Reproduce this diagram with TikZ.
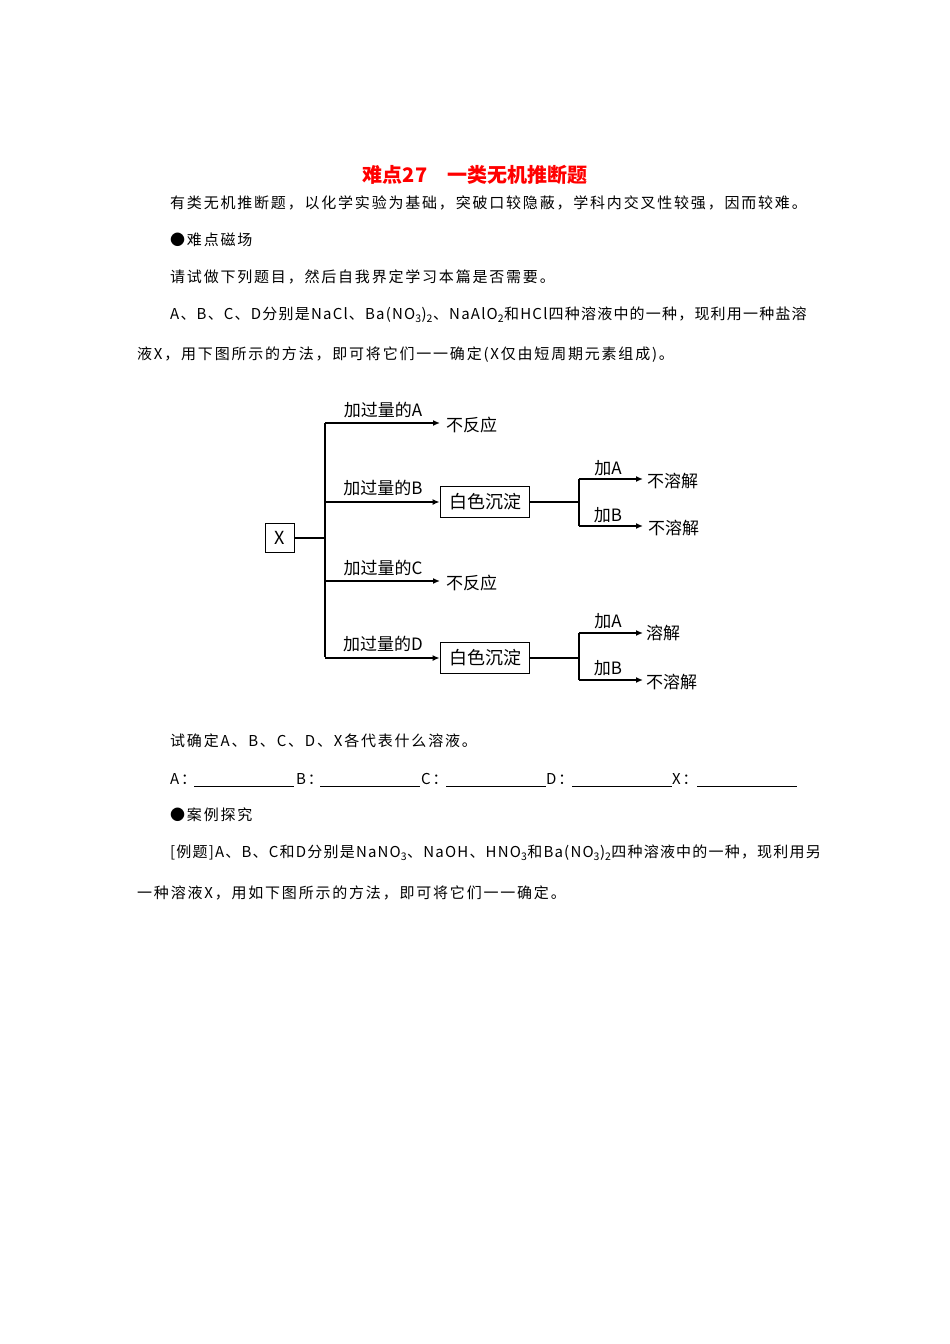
\documentclass[tikz,border=0pt]{standalone}
\usepackage{fontspec}
\setmainfont{Noto Sans CJK SC}
\newfontfamily\spaced[LetterSpace=12]{Noto Sans CJK SC}
\newfontfamily\spacedb[LetterSpace=8]{Noto Sans CJK SC}
\usetikzlibrary{arrows.meta}
\begin{document}
\begin{tikzpicture}[x=1pt,y=-1pt,
  txt/.style={anchor=west,inner sep=0pt,font=\spaced\fontsize{15}{17}\selectfont},
  txtb/.style={anchor=west,inner sep=0pt,font=\spacedb\fontsize{15}{17}\selectfont},
  lab/.style={inner sep=0pt,font=\fontsize{17}{19}\selectfont},
  box/.style={draw,line width=1.8pt,inner sep=3pt,font=\fontsize{18}{20}\selectfont},
  ln/.style={line width=1.6pt},
  arr/.style={line width=1.6pt,-{Latex[length=7pt,width=6pt]}}]
\useasboundingbox (0,0) rectangle (950,1344);
\node[inner sep=0pt,text=red,font=\fontsize{20}{22}\bfseries\selectfont] (title) at (475,175) {难点27\quad 一类无机推断题};
\node[txt] (p1) at (170,203) {有类无机推断题，以化学实验为基础，突破口较隐蔽，学科内交叉性较强，因而较难。};
\node[txt] (p2) at (170,240) {●难点磁场};
\node[txt] (p3) at (170,277) {请试做下列题目，然后自我界定学习本篇是否需要。};
\node[txtb] (p4) at (170,315) {A、B、C、D分别是NaCl、Ba(NO\textsubscript{3})\textsubscript{2}、NaAlO\textsubscript{2}和HCl四种溶液中的一种，现利用一种盐溶};
\node[txt] (p5) at (137,355) {液X，用下图所示的方法，即可将它们一一确定(X仅由短周期元素组成)。};
% diagram
\node[box,minimum width=29pt,minimum height=29pt] (x) at (280,538) {X};
\coordinate (t0) at (325,538);
\coordinate (ta) at (325,423);
\coordinate (td) at (325,657);
\draw[ln] (x.east) -- (t0);
\draw[ln] (ta) -- (td);
\node[lab,anchor=west] (na) at (446,425) {不反应};
\node[lab,anchor=west] (nc) at (446,583) {不反应};
\node[box,minimum width=89pt,minimum height=31pt] (wb) at (485,502) {白色沉淀};
\node[box,minimum width=89pt,minimum height=31pt] (wd) at (485,658) {白色沉淀};
\draw[arr] (ta) -- (440,423);
\draw[arr] (325,502) -- (wb.west);
\draw[arr] (325,581) -- (440,581);
\draw[arr] (325,658) -- (wd.west);
\node[lab] (la) at (383,410) {加过量的A};
\node[lab] (lb) at (383,488) {加过量的B};
\node[lab] (lc) at (383,568) {加过量的C};
\node[lab] (ld) at (383,644) {加过量的D};
% sub B
\coordinate (sb) at (579,502);
\draw[ln] (wb.east) -- (sb);
\draw[ln] (579,479) -- (579,526);
\draw[arr] (579,479) -- (643,479);
\draw[arr] (579,526) -- (643,526);
\node[lab] (ba) at (608,468) {加A};
\node[lab] (bb) at (608,515) {加B};
\node[lab,anchor=west] (r1) at (647,481) {不溶解};
\node[lab,anchor=west] (r2) at (648,528) {不溶解};
% sub D
\coordinate (sd) at (579,658);
\draw[ln] (wd.east) -- (sd);
\draw[ln] (579,633) -- (579,680);
\draw[arr] (579,633) -- (643,633);
\draw[arr] (579,680) -- (643,680);
\node[lab] (da) at (608,621) {加A};
\node[lab] (db) at (608,668) {加B};
\node[lab,anchor=west] (r3) at (646,633) {溶解};
\node[lab,anchor=west] (r4) at (646,682) {不溶解};
% after
\node[txt] (q1) at (170,741) {试确定A、B、C、D、X各代表什么溶液。};
\node[txt] (b1) at (170,779) {A：};
\node[txt] (b2) at (296,779) {B：};
\node[txt] (b3) at (421,779) {C：};
\node[txt] (b4) at (546,779) {D：};
\node[txt] (b5) at (672,779) {X：};
\draw[line width=0.6pt] (194,786) -- (294,786) (320,786) -- (420,786) (446,786) -- (546,786) (572,786) -- (672,786) (697,786) -- (797,786);
\node[txt] (q2) at (170,815) {●案例探究};
\node[txtb] (q3) at (170,853) {[例题]A、B、C和D分别是NaNO\textsubscript{3}、NaOH、HNO\textsubscript{3}和Ba(NO\textsubscript{3})\textsubscript{2}四种溶液中的一种，现利用另};
\node[txt] (q4) at (137,893) {一种溶液X，用如下图所示的方法，即可将它们一一确定。};
\end{tikzpicture}
\end{document}
